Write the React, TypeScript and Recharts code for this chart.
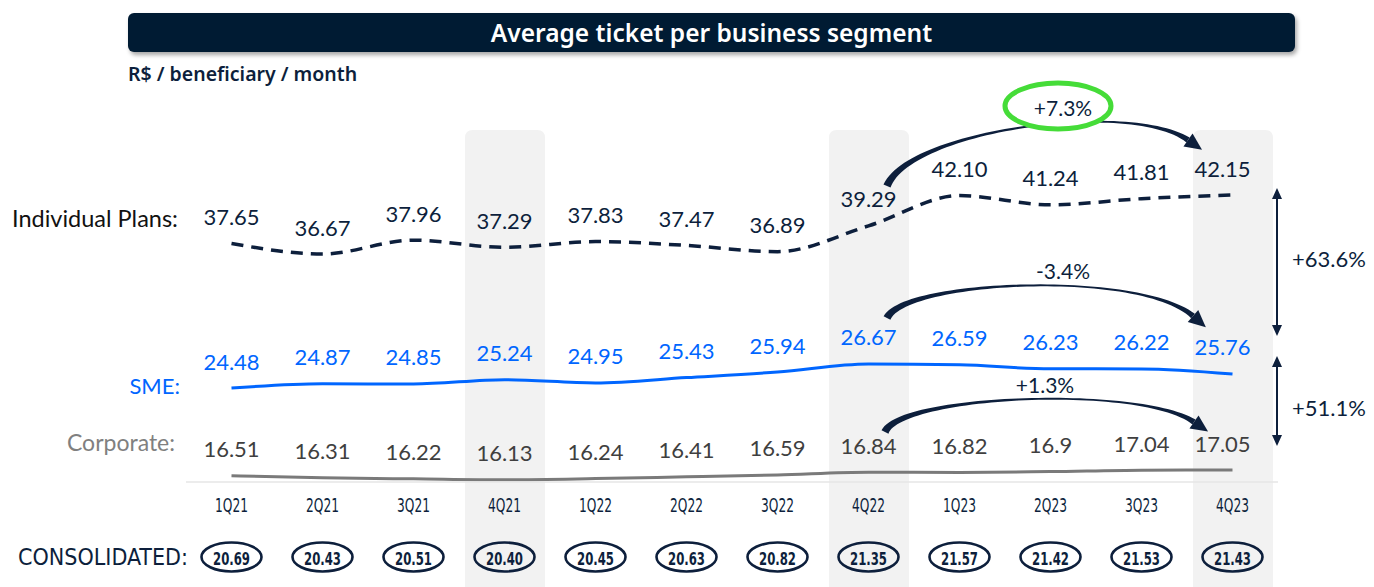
import React from "react";
import { ComposedChart, Bar, Line, XAxis, YAxis, LabelList } from "recharts";

// values
const quarters = ["1Q21", "2Q21", "3Q21", "4Q21", "1Q22", "2Q22", "3Q22", "4Q22", "1Q23", "2Q23", "3Q23", "4Q23"];
const individualPlans = [37.65, 36.67, 37.96, 37.29, 37.83, 37.47, 36.89, 39.29, 42.1, 41.24, 41.81, 42.15];
const smeValues = [24.48, 24.87, 24.85, 25.24, 24.95, 25.43, 25.94, 26.67, 26.59, 26.23, 26.22, 25.76];
const corporateValues = [16.51, 16.31, 16.22, 16.13, 16.24, 16.41, 16.59, 16.84, 16.82, 16.9, 17.04, 17.05];
const consolidatedValues = [20.69, 20.43, 20.51, 20.4, 20.45, 20.63, 20.82, 21.35, 21.57, 21.42, 21.53, 21.43];
const highlightedQuarters = ["4Q21", "4Q22", "4Q23"];

const NAVY = "#0d1f3c";
const BLUE = "#0066ff";
const SANS = "Lato, 'Noto Sans', sans-serif";
const NARROW = "'Liberation Sans Narrow', 'DejaVu Sans Condensed', 'Liberation Sans', sans-serif";

const chartData = quarters.map((q, i) => ({
  quarter: q,
  highlight: highlightedQuarters.includes(q) ? 1 : 0,
  individual: individualPlans[i],
  sme: smeValues[i],
  corporate: corporateValues[i],
}));

const QuarterTick = (props: any) => {
  const { x, payload } = props;
  const i = quarters.indexOf(payload.value);
  return (
    <g>
      <text x={x} y={505} textAnchor="middle" dominantBaseline="central" fontFamily={NARROW} fontSize={19} fill={NAVY} textLength={33} lengthAdjust="spacingAndGlyphs">
        {payload.value}
      </text>
      <ellipse cx={x} cy={557} rx={30} ry={14.5} fill="none" stroke={NAVY} strokeWidth={2.6} />
      <text x={x} y={558} textAnchor="middle" dominantBaseline="central" fontFamily={NARROW} fontWeight="bold" fontSize={18.5} fill={NAVY} textLength={37} lengthAdjust="spacingAndGlyphs">
        {consolidatedValues[i].toFixed(2)}
      </text>
    </g>
  );
};

// column background that runs down through the tick area to the bottom edge
const ColumnShape = (props: any) => {
  const { x, y, width, height } = props;
  if (!height) return null;
  const r = 8;
  const bottom = 587;
  return (
    <path
      d={`M${x},${bottom} L${x},${y + r} Q${x},${y} ${x + r},${y} L${x + width - r},${y} Q${x + width},${y} ${x + width},${y + r} L${x + width},${bottom} Z`}
      fill="#f2f2f2"
    />
  );
};

const makeLabel = (color: string, fmt: (v: number) => string) => (props: any) => {
  const { x, y, value, index } = props;
  const dx = index === quarters.length - 1 ? -10 : 0;
  return (
    <text x={x + dx} y={y - 27} textAnchor="middle" dominantBaseline="central" fill={color} fontSize={22} fontFamily={SANS}>
      {fmt(value)}
    </text>
  );
};

// tapered curved arrow built from a cubic bezier
function curvedArrow(p: number[][]) {
  const pt = (t: number) => {
    const a = (1 - t) ** 3, b = 3 * (1 - t) ** 2 * t, c = 3 * (1 - t) * t * t, d = t ** 3;
    return [a * p[0][0] + b * p[1][0] + c * p[2][0] + d * p[3][0], a * p[0][1] + b * p[1][1] + c * p[2][1] + d * p[3][1]];
  };
  const left: number[][] = [];
  const right: number[][] = [];
  const n = 60;
  for (let k = 0; k <= n; k++) {
    const t = k / n;
    const a = pt(Math.max(0, t - 0.01));
    const b = pt(Math.min(1, t + 0.01));
    let tx = b[0] - a[0], ty = b[1] - a[1];
    const len = Math.hypot(tx, ty) || 1;
    tx /= len; ty /= len;
    const w = (1.2 + 6.5 * (1 - t) ** 3 + 4.5 * t ** 6) / 2;
    const c = pt(t);
    left.push([c[0] - ty * w, c[1] + tx * w]);
    right.push([c[0] + ty * w, c[1] - tx * w]);
  }
  const body = [...left, ...right.reverse()].map((q) => q.join(",")).join(" ");
  let dx = p[3][0] - p[2][0], dy = p[3][1] - p[2][1];
  const l = Math.hypot(dx, dy);
  dx /= l; dy /= l;
  const end = p[3];
  const tip = [end[0] + dx * 17, end[1] + dy * 17];
  const h1 = [end[0] - dy * 8, end[1] + dx * 8];
  const h2 = [end[0] + dy * 8, end[1] - dx * 8];
  const head = [tip, h1, h2].map((q) => q.join(",")).join(" ");
  return { body, head };
}

const arcs = [
  curvedArrow([[887, 186], [910, 130], [1130, 100], [1188, 140]]),
  curvedArrow([[887, 318], [905, 280], [1140, 270], [1193, 316]]),
  curvedArrow([[885, 432], [900, 395], [1140, 385], [1194, 422]]),
];

const VArrow = ({ x, y1, y2 }: { x: number; y1: number; y2: number }) => (
  <g fill={NAVY} stroke={NAVY}>
    <line x1={x} x2={x} y1={y1 + 8} y2={y2 - 8} strokeWidth={2} />
    <polygon points={`${x},${y1} ${x - 5},${y1 + 11} ${x + 5},${y1 + 11}`} stroke="none" />
    <polygon points={`${x},${y2} ${x - 5},${y2 - 11} ${x + 5},${y2 - 11}`} stroke="none" />
  </g>
);

export default function App() {
  return (
    <div style={{ position: "absolute", left: 0, top: 0, width: 1374, height: 587, background: "#fff", overflow: "hidden" }}>
      <div
        style={{
          position: "absolute", left: 128, top: 13, width: 1167, height: 39, background: "#001b33", borderRadius: 6,
          boxShadow: "2px 3px 4px rgba(0,0,0,0.35)", color: "#fff", textAlign: "center", lineHeight: "39px",
          fontFamily: "'Noto Sans', sans-serif", fontWeight: 600, fontSize: 24.5,
        }}
      >
        Average ticket per business segment
      </div>
      <div style={{ position: "absolute", left: 128, top: 61, lineHeight: "26px", fontFamily: "'Noto Sans', sans-serif", fontWeight: 600, fontSize: 19.5, color: NAVY }}>
        R$ / beneficiary / month
      </div>

      <div style={{ position: "absolute", left: 0, top: 0 }}>
        <ComposedChart width={1374} height={587} data={chartData} margin={{ top: 130, right: 96, left: 186, bottom: 0 }}>
          <XAxis dataKey="quarter" height={105} axisLine={{ stroke: "#e6e6e6", strokeWidth: 1.5 }} tickLine={false} interval={0} tick={<QuarterTick />} />
          <YAxis yAxisId="hl" hide domain={[0, 1]} />
          <YAxis yAxisId="ind" hide domain={[15.5, 48.19]} />
          <YAxis yAxisId="sme" hide domain={[15.94, 47.94]} />
          <YAxis yAxisId="corp" hide domain={[15.92, 49.13]} />
          <Bar yAxisId="hl" dataKey="highlight" barSize={80} fill="#f2f2f2" shape={<ColumnShape />} isAnimationActive={false} />
          <Line yAxisId="ind" dataKey="individual" type="monotone" stroke={NAVY} strokeWidth={3.5} strokeDasharray="12 8" dot={false} isAnimationActive={false}>
            <LabelList dataKey="individual" content={makeLabel(NAVY, (v) => v.toFixed(2))} />
          </Line>
          <Line yAxisId="sme" dataKey="sme" type="monotone" stroke={BLUE} strokeWidth={3} dot={false} isAnimationActive={false}>
            <LabelList dataKey="sme" content={makeLabel(BLUE, (v) => v.toFixed(2))} />
          </Line>
          <Line yAxisId="corp" dataKey="corporate" type="monotone" stroke="#7a7a7a" strokeWidth={3} dot={false} isAnimationActive={false}>
            <LabelList dataKey="corporate" content={makeLabel("#3f3f3f", (v) => String(v))} />
          </Line>
        </ComposedChart>
      </div>

      <svg width={1374} height={587} style={{ position: "absolute", left: 0, top: 0, pointerEvents: "none" }}>
        <text x={178} y={218} textAnchor="end" dominantBaseline="central" fontFamily={SANS} fontSize={23.5} fill="#111">Individual Plans:</text>
        <text x={180} y={385} textAnchor="end" dominantBaseline="central" fontFamily={SANS} fontSize={22} fill={BLUE}>SME:</text>
        <text x={175} y={442} textAnchor="end" dominantBaseline="central" fontFamily={SANS} fontSize={23} fill="#808080">Corporate:</text>
        <text x={18} y={557} dominantBaseline="central" fontFamily={NARROW} fontSize={23} fill={NAVY} textLength={170} lengthAdjust="spacingAndGlyphs">CONSOLIDATED:</text>

        {arcs.map((a, i) => (
          <g key={i} fill={NAVY}>
            <polygon points={a.body} />
            <polygon points={a.head} />
          </g>
        ))}

        <ellipse cx={1058} cy={106} rx={53} ry={23} fill="#fff" stroke="#45dc38" strokeWidth={5} />
        <text x={1063} y={107} textAnchor="middle" dominantBaseline="central" fontFamily={SANS} fontSize={21} fill={NAVY}>+7.3%</text>
        <text x={1063} y={270} textAnchor="middle" dominantBaseline="central" fontFamily={SANS} fontSize={21} fill={NAVY}>-3.4%</text>
        <text x={1045} y={384} textAnchor="middle" dominantBaseline="central" fontFamily={SANS} fontSize={21} fill={NAVY}>+1.3%</text>

        <VArrow x={1277} y1={188} y2={336} />
        <VArrow x={1277} y1={356} y2={446} />
        <text x={1329} y={258} textAnchor="middle" dominantBaseline="central" fontFamily={SANS} fontSize={22} fill={NAVY}>+63.6%</text>
        <text x={1329} y={407} textAnchor="middle" dominantBaseline="central" fontFamily={SANS} fontSize={22} fill={NAVY}>+51.1%</text>
      </svg>
    </div>
  );
}
